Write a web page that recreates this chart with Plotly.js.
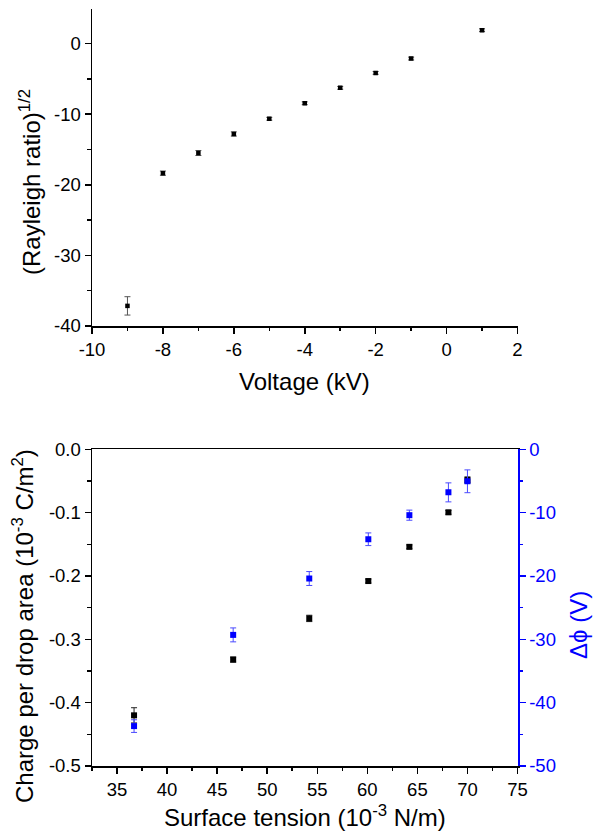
<!DOCTYPE html>
<html><head><meta charset="utf-8">
<script src="https://cdn.plot.ly/plotly-3.0.1.min.js"></script>
<style>html,body{margin:0;padding:0;background:#fff}</style>
</head><body><div id="chart" style="width:594px;height:835px"></div>
<script>
// Top panel data
const voltage = [-9, -8, -7, -6, -5, -4, -3, -2, -1, 1];
const rayleighRoot = [-37.15, -18.35, -15.5, -12.8, -10.65, -8.45, -6.27, -4.15, -2.12, 1.9];
const rayleighErr = [1.3, 0.3, 0.35, 0.3, 0.2, 0.2, 0.2, 0.2, 0.2, 0.2];
// Bottom panel data
const surfaceTension = [36.7, 46.6, 54.2, 60.1, 64.2, 68.1, 70.0];
const chargePerArea = [-0.420, -0.332, -0.267, -0.208, -0.154, -0.0995, -0.0485];
const chargeErr = [0.012, 0.004, 0.005, 0.003, 0.003, 0.003, 0.005];
const deltaPhi = [-43.7, -29.3, -20.4, -14.2, -10.4, -6.8, -5.05];
const deltaPhiErr = [1.0, 1.1, 1.1, 1.0, 0.8, 1.5, 1.8];
// Tick labels
const voltTicks = [-10, -8, -6, -4, -2, 0, 2];
const voltLabels = ['-10', '-8', '-6', '-4', '-2', '0', '2'];
const rayTicks = [-40, -30, -20, -10, 0];
const rayLabels = ['-40', '-30', '-20', '-10', '0'];
const tensionTicks = [35, 40, 45, 50, 55, 60, 65, 70, 75];
const tensionLabels = ['35', '40', '45', '50', '55', '60', '65', '70', '75'];
const chargeTicks = [-0.5, -0.4, -0.3, -0.2, -0.1, 0];
const chargeLabels = ['-0.5', '-0.4', '-0.3', '-0.2', '-0.1', '0.0'];
const phiTicks = [-50, -40, -30, -20, -10, 0];
const phiLabels = ['-50', '-40', '-30', '-20', '-10', '0'];

const FONT = 'Liberation Sans, Arial, sans-serif';
const W = 594, H = 835;
const px = v => v / W, py = v => 1 - v / H;
const tickFont = {family: FONT, size: 18.5, color: '#000'};
const BLUE = '#0000ff';

function axisBase(color, lw) {
  return {
    showline: true, linecolor: color, linewidth: lw, ticks: 'outside', ticklen: 6,
    tickwidth: 1.5, tickcolor: color, showgrid: false, zeroline: false,
    tickfont: Object.assign({}, tickFont, {color: color}), tickmode: 'array',
    minor: {ticks: 'outside', ticklen: 3.5, tickwidth: 1.5, tickcolor: color, showgrid: false}
  };
}

const traces = [
  {x: voltage, y: rayleighRoot, xaxis: 'x', yaxis: 'y', mode: 'markers', type: 'scatter',
   marker: {symbol: 'square', size: 4.5, color: '#000'},
   error_y: {type: 'data', array: rayleighErr, visible: true, color: '#555', thickness: 1, width: 3}},
  {x: surfaceTension, y: chargePerArea, xaxis: 'x2', yaxis: 'y2', mode: 'markers', type: 'scatter',
   marker: {symbol: 'square', size: 6, color: '#000'},
   error_y: {type: 'data', array: chargeErr, visible: true, color: '#222', thickness: 1, width: 3}},
  {x: surfaceTension, y: deltaPhi, xaxis: 'x2', yaxis: 'y3', mode: 'markers', type: 'scatter',
   marker: {symbol: 'square', size: 6, color: BLUE},
   error_y: {type: 'data', array: deltaPhiErr, visible: true, color: '#4a4aff', thickness: 1, width: 3}}
];

const xa = Object.assign(axisBase('#000', 1.5), {
  domain: [px(92), px(517.5)], anchor: 'y', range: [-10, 2],
  tickvals: voltTicks, ticktext: voltLabels});
xa.minor = Object.assign({}, xa.minor, {tickmode: 'linear', tick0: 0, dtick: 1});
const ya = Object.assign(axisBase('#000', 1.5), {
  domain: [py(326), py(9)], anchor: 'x', range: [-40, 4.9],
  tickvals: rayTicks, ticktext: rayLabels});
ya.minor = Object.assign({}, ya.minor, {tickmode: 'linear', tick0: -35, dtick: 10});
const xa2 = Object.assign(axisBase('#000', 1.5), {
  domain: [px(92), px(517.5)], anchor: 'y2', range: [32.5, 75], mirror: true,
  tickvals: tensionTicks, ticktext: tensionLabels});
xa2.minor = Object.assign({}, xa2.minor, {tickmode: 'linear', tick0: 32.5, dtick: 5});
const ya2 = Object.assign(axisBase('#000', 1.5), {
  domain: [py(766), py(449.3)], anchor: 'x2', range: [-0.5, 0],
  tickvals: chargeTicks, ticktext: chargeLabels});
ya2.minor = Object.assign({}, ya2.minor, {tickmode: 'linear', tick0: -0.45, dtick: 0.1});
const ya3 = Object.assign(axisBase(BLUE, 2), {
  overlaying: 'y2', side: 'right', anchor: 'x2', range: [-50, 0],
  tickvals: phiTicks, ticktext: phiLabels});
ya3.minor = Object.assign({}, ya3.minor, {tickmode: 'linear', tick0: -45, dtick: 10});

const titleFont = {family: FONT, size: 24, color: '#000'};
const ann = (text, x, y, angle, color) => ({
  text: text, xref: 'paper', yref: 'paper', x: x, y: y, xanchor: 'center', yanchor: 'middle',
  showarrow: false, textangle: angle, font: Object.assign({}, titleFont, color ? {color: color} : {})
});

const layout = {
  width: W, height: H, margin: {l: 0, r: 0, t: 0, b: 0},
  paper_bgcolor: '#fff', plot_bgcolor: '#fff', showlegend: false,
  xaxis: xa, yaxis: ya, xaxis2: xa2, yaxis2: ya2, yaxis3: ya3,
  annotations: [
    ann('(Rayleigh ratio)<sup>1/2</sup>', px(30), py(182), -90),
    ann('Voltage (kV)', px(304.5), py(381), 0),
    ann('Charge per drop area (10<sup>-3</sup> C/m<sup>2</sup>)', px(23), py(626), -90),
    ann('Surface tension (10<sup>-3</sup> N/m)', px(304.5), py(816), 0),
    ann('Δϕ (V)', px(578), py(625), -90, BLUE)
  ]
};

Plotly.newPlot('chart', traces, layout, {staticPlot: true, displayModeBar: false});
</script></body></html>
